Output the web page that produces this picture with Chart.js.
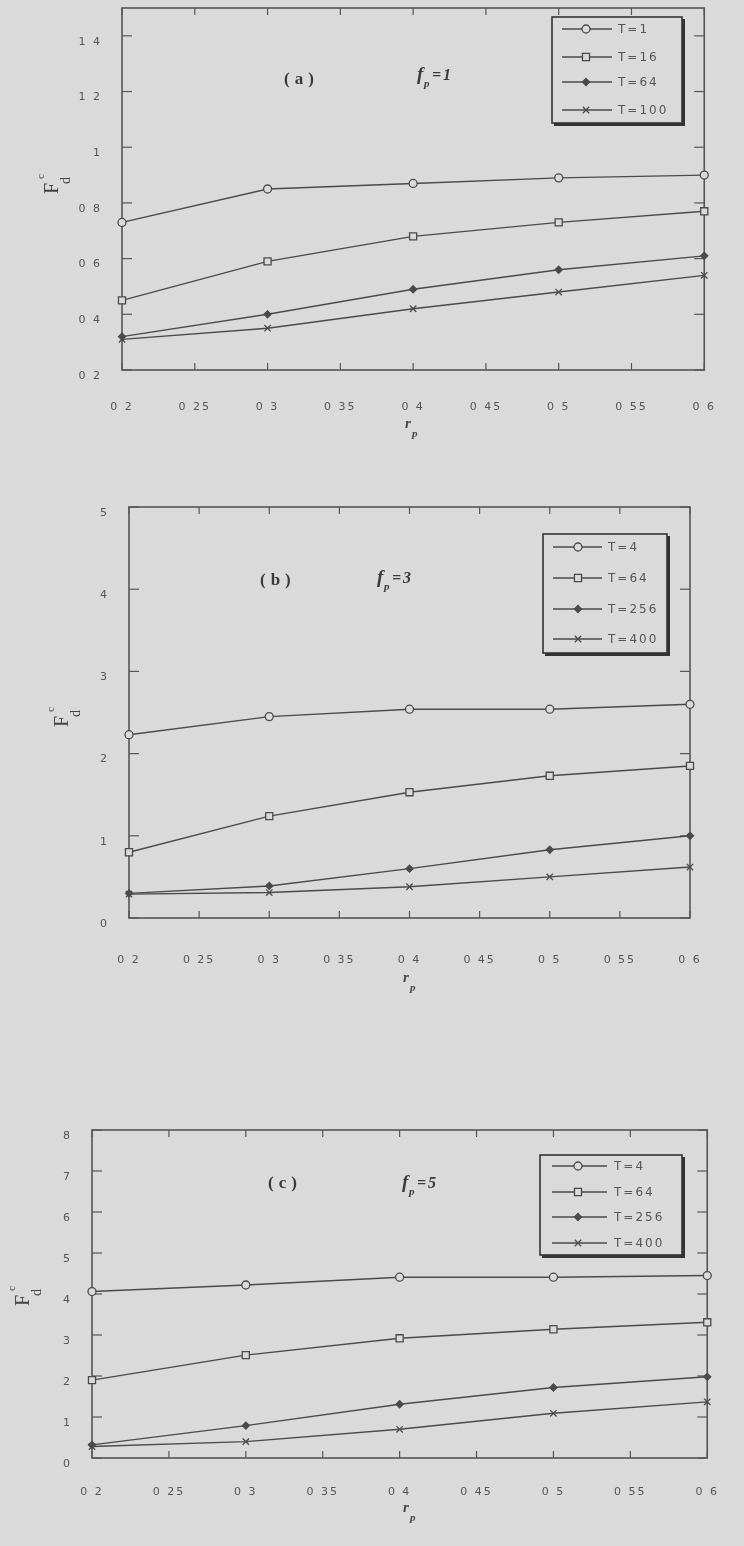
<!DOCTYPE html>
<html>
<head>
<meta charset="utf-8">
<script src="https://cdn.jsdelivr.net/npm/chart.js@4.4.1/dist/chart.umd.min.js"></script>
<style>
html, body { margin: 0; padding: 0; background: #dadada; }
#wrap { position: relative; width: 744px; height: 1546px; overflow: hidden; }
canvas { position: absolute; left: 0; }
</style>
</head>
<body>
<div id="wrap">
  <canvas id="grafA" width="744" height="490" style="top:-20px"></canvas>
  <canvas id="grafB" width="744" height="520" style="top:480px"></canvas>
  <canvas id="grafC" width="744" height="546" style="top:1000px"></canvas>
</div>
<script>
// eixo x: r_p
const rp = [0.2, 0.3, 0.4, 0.5, 0.6];
const xTicks = [0.2, 0.25, 0.3, 0.35, 0.4, 0.45, 0.5, 0.55, 0.6];

// painel (a), f_p = 1
const labelsA = ['T=1', 'T=16', 'T=64', 'T=100'];
const a_T1   = [0.73, 0.85, 0.87, 0.89, 0.90];
const a_T16  = [0.45, 0.59, 0.68, 0.73, 0.77];
const a_T64  = [0.32, 0.40, 0.49, 0.56, 0.61];
const a_T100 = [0.31, 0.35, 0.42, 0.48, 0.54];
const yTicksA = [0.2, 0.4, 0.6, 0.8, 1, 1.2, 1.4];

// painel (b), f_p = 3
const labelsB = ['T=4', 'T=64', 'T=256', 'T=400'];
const b_T4   = [2.23, 2.45, 2.54, 2.54, 2.60];
const b_T64  = [0.80, 1.24, 1.53, 1.73, 1.85];
const b_T256 = [0.30, 0.39, 0.60, 0.83, 1.00];
const b_T400 = [0.29, 0.31, 0.38, 0.50, 0.62];
const yTicksB = [0, 1, 2, 3, 4, 5];

// painel (c), f_p = 5
const labelsC = ['T=4', 'T=64', 'T=256', 'T=400'];
const c_T4   = [4.06, 4.22, 4.41, 4.41, 4.45];
const c_T64  = [1.90, 2.51, 2.92, 3.14, 3.31];
const c_T256 = [0.32, 0.79, 1.31, 1.72, 1.98];
const c_T400 = [0.28, 0.40, 0.70, 1.09, 1.37];
const yTicksC = [0, 1, 2, 3, 4, 5, 6, 7, 8];

const corLinha = '#4a4a4a';
const corFundo = '#dadada';
const corTexto = '#555555';

// marcadores: circulo, quadrado, losango cheio, x
const marcadores = [
    { pointStyle: 'circle',   pointRadius: 4,   pointBackgroundColor: corFundo },
    { pointStyle: 'rect',     pointRadius: 5,   pointBackgroundColor: corFundo },
    { pointStyle: 'rectRot',  pointRadius: 3.5, pointBackgroundColor: corLinha },
    { pointStyle: 'crossRot', pointRadius: 4.5, pointBackgroundColor: corFundo }
];

function serie(label, valores, i) {
    return Object.assign({
        label: label,
        data: rp.map((x, k) => ({ x: x, y: valores[k] })),
        borderColor: corLinha,
        borderWidth: 1.4,
        pointBorderColor: corLinha,
        pointBorderWidth: 1.3,
        tension: 0,
        fill: false,
        clip: false
    }, marcadores[i]);
}

// "0.25" -> "0 25", como no original
const fmt = v => String(+Number(v).toFixed(2)).replace('.', ' ');

function linha(ctx, x1, y1, x2, y2) {
    ctx.beginPath();
    ctx.moveTo(x1, y1);
    ctx.lineTo(x2, y2);
    ctx.stroke();
}

// moldura, ticks internos, legenda e textos
function moldura(cfg) {
    return {
        id: 'moldura',
        beforeDraw(chart) {
            chart.ctx.letterSpacing = '2px';
        },
        beforeDatasetsDraw(chart) {
            const ctx = chart.ctx, ca = chart.chartArea;
            const sx = chart.scales.x, sy = chart.scales.y;
            ctx.save();
            ctx.strokeStyle = '#555';
            ctx.lineWidth = 1.2;
            sx.ticks.forEach(t => {
                const px = sx.getPixelForValue(t.value);
                linha(ctx, px, ca.bottom, px, ca.bottom - 7);
                linha(ctx, px, ca.top, px, ca.top + 7);
            });
            sy.ticks.forEach(t => {
                const py = sy.getPixelForValue(t.value);
                linha(ctx, ca.left, py, ca.left + 10, py);
                linha(ctx, ca.right, py, ca.right - 10, py);
            });
            ctx.lineWidth = 1.6;
            ctx.strokeRect(ca.left, ca.top, ca.right - ca.left, ca.bottom - ca.top);
            ctx.restore();
        },
        afterDraw(chart) {
            const ctx = chart.ctx;
            const lg = cfg.legenda;
            ctx.save();

            // caixa da legenda com sombra
            const [bx, by, bw, bh] = lg.caixa;
            ctx.strokeStyle = '#333';
            ctx.lineWidth = 1.6;
            ctx.strokeRect(bx, by, bw, bh);
            ctx.fillStyle = '#333';
            ctx.fillRect(bx + bw, by + 2, 3, bh + 1);
            ctx.fillRect(bx + 2, by + bh, bw + 1, 3);

            chart.data.datasets.forEach((ds, i) => {
                const yy = lg.itens[i];
                ctx.strokeStyle = corLinha;
                ctx.lineWidth = 1.3;
                linha(ctx, lg.linha[0], yy, lg.linha[1], yy);
                ctx.fillStyle = ds.pointBackgroundColor;
                Chart.helpers.drawPoint(ctx, {
                    pointStyle: ds.pointStyle, rotation: 0,
                    radius: ds.pointRadius, borderWidth: 1.3
                }, lg.marca, yy);
                ctx.fillStyle = corTexto;
                ctx.font = '12px "DejaVu Sans"';
                ctx.letterSpacing = '2px';
                ctx.textAlign = 'left';
                ctx.textBaseline = 'middle';
                ctx.fillText(ds.label, lg.texto, yy + 1);
            });

            // (a) / (b) / (c)
            ctx.fillStyle = '#3a3a3a';
            ctx.textBaseline = 'alphabetic';
            ctx.font = 'bold 17px "Liberation Serif"';
            ctx.letterSpacing = '5px';
            ctx.fillText(cfg.letra.t, cfg.letra.x, cfg.letra.y);

            // f_p = n
            ctx.letterSpacing = '0px';
            const f = cfg.fp;
            ctx.font = 'italic bold 19px "Liberation Serif"';
            ctx.fillText('f', f.x, f.y);
            ctx.font = 'italic bold 11px "Liberation Serif"';
            ctx.fillText('p', f.x + 7, f.y + 7);
            ctx.font = 'italic bold 16px "Liberation Serif"';
            ctx.letterSpacing = '2px';
            ctx.fillText(f.v, f.x + 15, f.y);

            // titulo do eixo x: r_p
            ctx.letterSpacing = '0px';
            ctx.fillStyle = '#444';
            ctx.font = 'italic bold 15px "Liberation Serif"';
            ctx.fillText('r', cfg.rTit.x, cfg.rTit.y);
            ctx.font = 'italic bold 11px "Liberation Serif"';
            ctx.fillText('p', cfg.rTit.x + 7, cfg.rTit.y + 9);

            // titulo do eixo y: F_d^c (rotacionado)
            ctx.translate(cfg.fTit.x, cfg.fTit.y);
            ctx.rotate(-Math.PI / 2);
            ctx.font = '20px "Liberation Serif"';
            ctx.fillText('F', 0, 0);
            ctx.font = '14px "Liberation Serif"';
            ctx.fillText('d', 10, 12);
            ctx.font = '11px "Liberation Serif"';
            ctx.fillText('c', 15, -14);
            ctx.restore();
        }
    };
}

function criarGrafico(id, labels, series, yTicks, yMax, cfg) {
    const ctx = document.getElementById(id).getContext('2d');
    const fonteTicks = { family: 'DejaVu Sans', size: 11 };
    return new Chart(ctx, {
        type: 'line',
        data: { datasets: series.map((s, i) => serie(labels[i], s, i)) },
        options: {
            responsive: false,
            animation: false,
            devicePixelRatio: 1,
            layout: { padding: { top: cfg.pad[0], right: cfg.pad[1], bottom: 0, left: 0 } },
            plugins: { legend: { display: false }, tooltip: { enabled: false } },
            scales: {
                x: {
                    type: 'linear', min: 0.2, max: 0.6,
                    grid: { display: false, drawTicks: false },
                    border: { display: false },
                    ticks: {
                        callback: fmt, padding: cfg.xPad, color: corTexto,
                        font: fonteTicks, maxRotation: 0, autoSkip: false
                    },
                    afterBuildTicks: s => { s.ticks = xTicks.map(v => ({ value: v })); },
                    afterFit: s => { s.height = cfg.xH; }
                },
                y: {
                    type: 'linear', min: yTicks[0], max: yMax,
                    grid: { display: false, drawTicks: false },
                    border: { display: false },
                    ticks: {
                        callback: fmt, padding: 20, labelOffset: 6,
                        color: corTexto, font: fonteTicks
                    },
                    afterBuildTicks: s => { s.ticks = yTicks.map(v => ({ value: v })); },
                    afterFit: s => { s.width = cfg.yW; }
                }
            }
        },
        plugins: [moldura(cfg)]
    });
}

// canvas (a) comeca em y = -20
criarGrafico('grafA', labelsA, [a_T1, a_T16, a_T64, a_T100], yTicksA, 1.5, {
    pad: [28, 39], yW: 122, xH: 100, xPad: 31,
    legenda: { caixa: [552, 37, 130, 106], itens: [49, 77, 102, 130], linha: [562, 612], marca: 586, texto: 618 },
    letra: { t: '(a)', x: 284, y: 104 },
    fp: { x: 417, y: 100, v: '=1' },
    rTit: { x: 405, y: 448 },
    fTit: { x: 58, y: 214 }
});

criarGrafico('grafB', labelsB, [b_T4, b_T64, b_T256, b_T400], yTicksB, 5, {
    pad: [27, 54], yW: 129, xH: 82, xPad: 36,
    legenda: { caixa: [543, 54, 124, 119], itens: [67, 98, 129, 159], linha: [553, 602], marca: 578, texto: 608 },
    letra: { t: '(b)', x: 260, y: 105 },
    fp: { x: 377, y: 103, v: '=3' },
    rTit: { x: 403, y: 502 },
    fTit: { x: 68, y: 247 }
});

criarGrafico('grafC', labelsC, [c_T4, c_T64, c_T256, c_T400], yTicksC, 8, {
    pad: [130, 15], yW: 92, xH: 88, xPad: 28,
    legenda: { caixa: [540, 155, 142, 100], itens: [166, 192, 217, 243], linha: [552, 607], marca: 578, texto: 614 },
    letra: { t: '(c)', x: 268, y: 188 },
    fp: { x: 402, y: 188, v: '=5' },
    rTit: { x: 403, y: 512 },
    fTit: { x: 29, y: 306 }
});
</script>
</body>
</html>
